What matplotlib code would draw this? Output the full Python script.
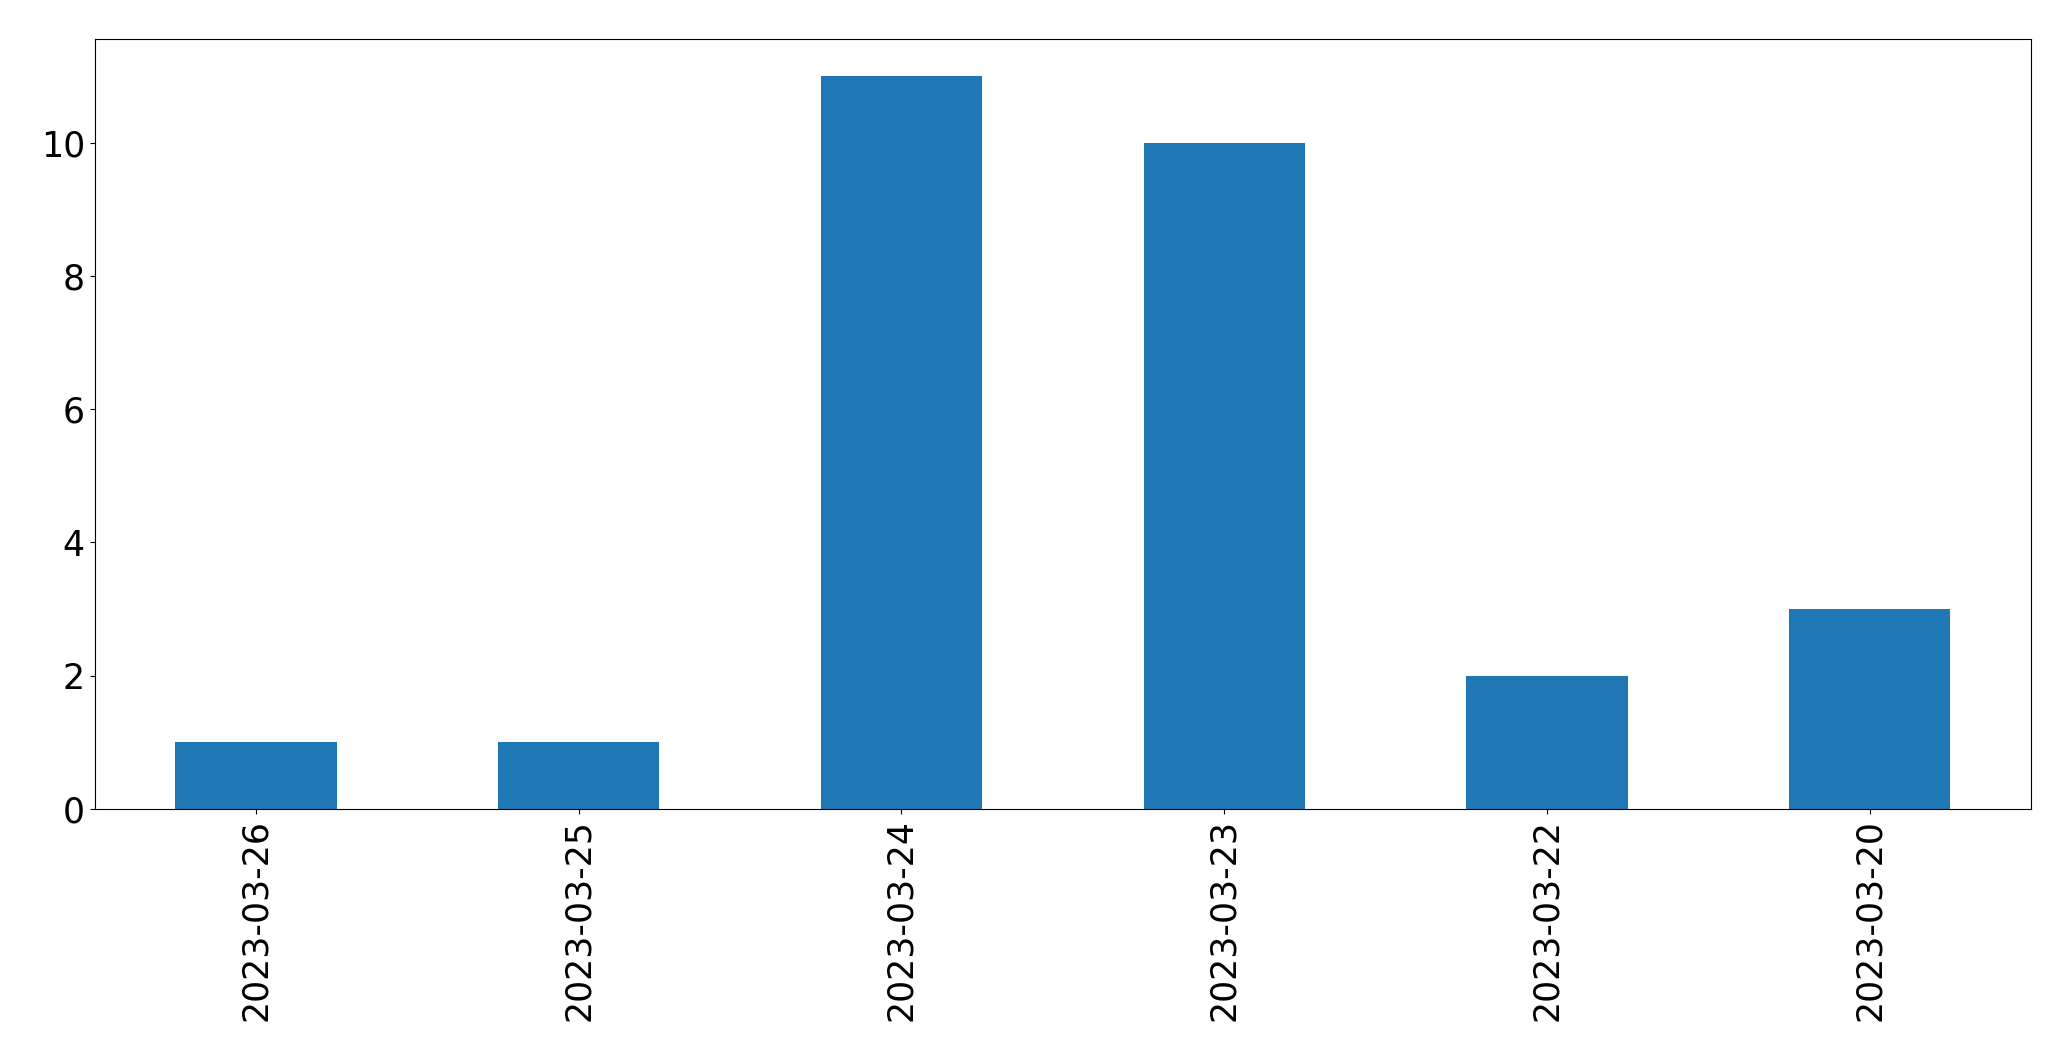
import numpy as np
import matplotlib
matplotlib.use('Agg')
import matplotlib.pyplot as plt

# counts per day
dates = ['2023-03-26', '2023-03-25', '2023-03-24', '2023-03-23', '2023-03-22', '2023-03-20']
counts = [1, 1, 11, 10, 2, 3]

fig = plt.figure(figsize=(20.71, 10.61), dpi=100)
ax = fig.add_axes([0.0457, 0.2375, 0.9350, 0.7255])

x = np.arange(len(dates))
ax.bar(x, counts, width=0.5, color='#1f77b4')
ax.set_xlim(-0.5, len(dates) - 0.5)
ax.set_ylim(0, max(counts) * 1.05)
ax.set_xticks(x)
ax.set_xticklabels(dates, rotation=90)
ax.tick_params(axis='both', labelsize=25)

fig.savefig('out.png', dpi=100)
